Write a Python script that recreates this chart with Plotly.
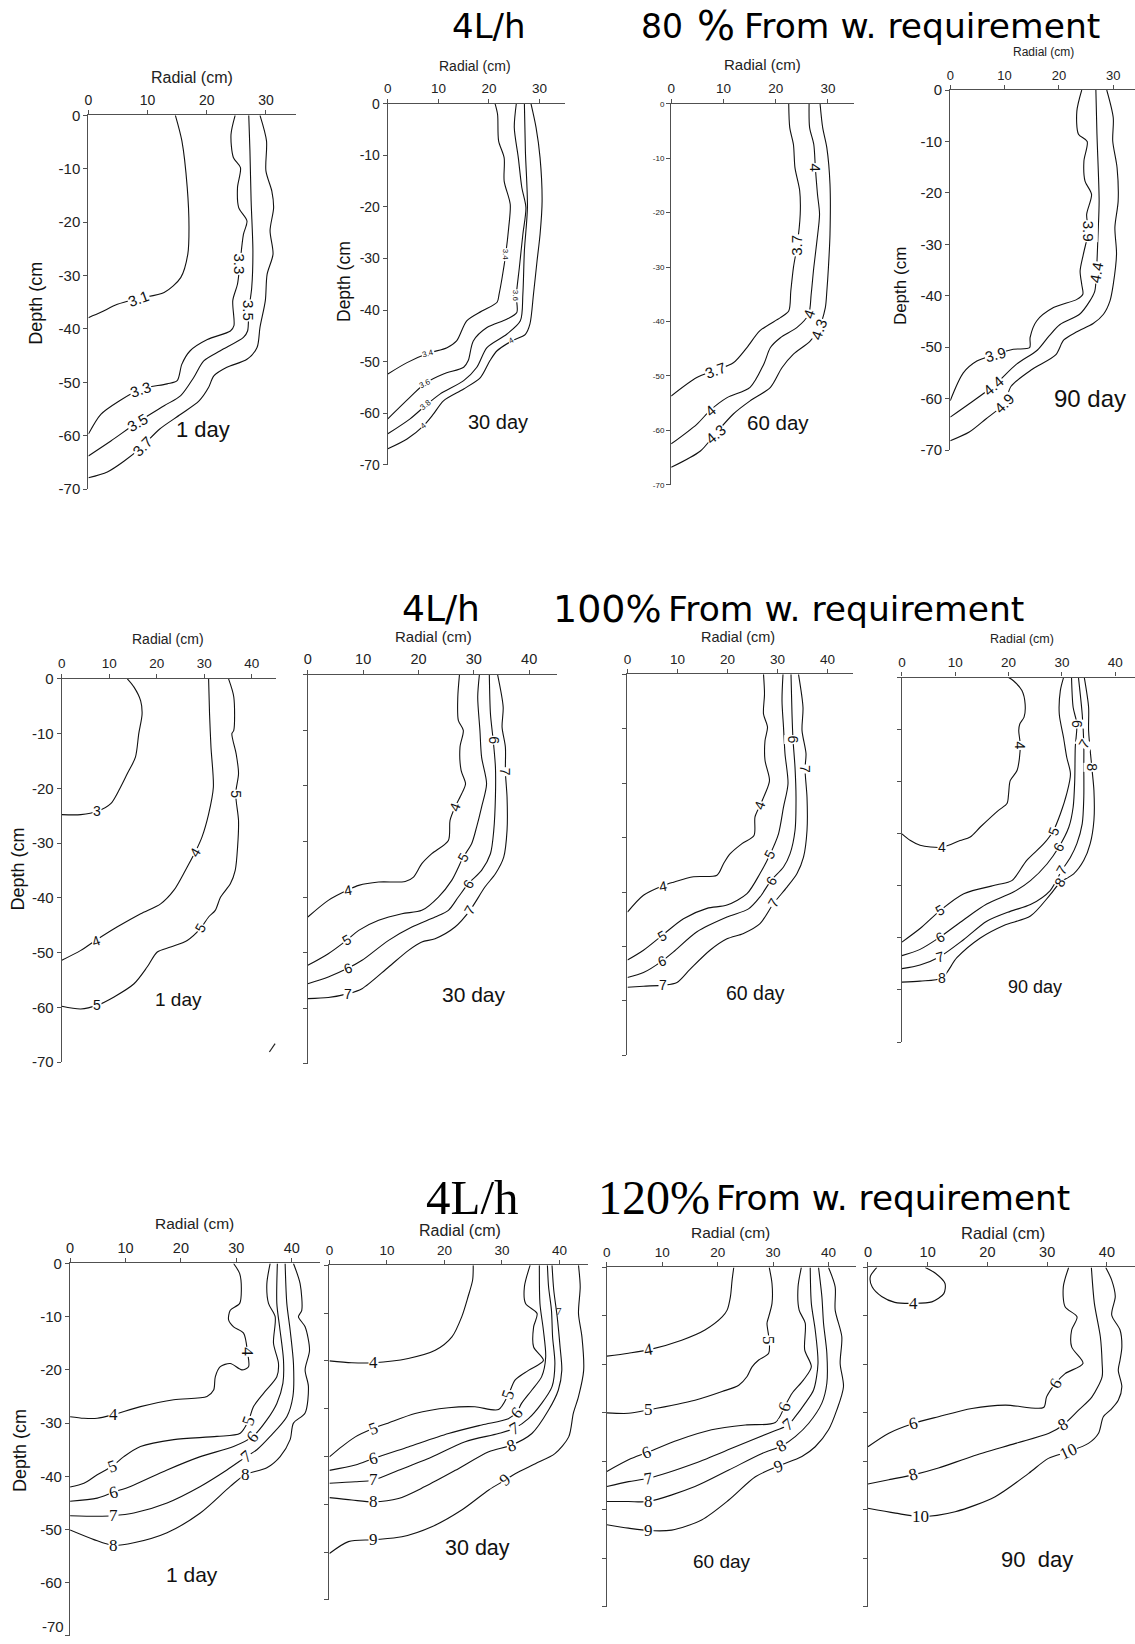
import plotly.graph_objects as go

W, H = 1135, 1644
PAGE_H = 1660              # page height incl. the 8 px body margins (screenshot is scaled to H)
Y_OFF = 8

# ======================= DATA =======================
X_TICKS_35 = [0, 10, 20, 30]
X_TICKS_45 = [0, 10, 20, 30, 40]
Y_TICKS = [0, -10, -20, -30, -40, -50, -60, -70]
Y_TICK_TEXT = ["0", "-10", "-20", "-30", "-40", "-50", "-60", "-70"]

DAY_LABELS = ["1 day", "30 day", "60 day", "90 day"]
DAY_LABELS_R3 = ["1 day", "30 day", "60 day", "90  day"]

# contour lines: (radial cm, depth cm) ---- row 1 : 4 L/h, 80 %
A1_31 = [(14.7,0),(15.8,-4.8),(16.7,-13.5),(17.0,-21),(16.8,-26),(15.6,-30.4),(12.8,-33.2),(8.5,-34.3),(4.9,-35.4),(2.1,-36.9),(0,-37.9)]
A1_33 = [(24.8,0),(24.1,-3.6),(24.5,-7.9),(25.7,-9.8),(25.2,-13.5),(25.4,-17.3),(26.8,-19.8),(26.2,-22.3),(25.6,-27.9),(25.2,-31.6),(24.4,-34.7),(24.6,-39.4),(24.0,-40.4),(20.1,-42),(17.2,-44.1),(15.8,-46.6),(15.0,-49.7),(13.3,-50.3),(8.8,-51.3),(5.2,-53.5),(2.1,-56),(0,-59.7)]
A1_35 = [(27.1,0),(27.3,-6.7),(27.5,-16),(27.8,-25.4),(27.6,-32.3),(27.1,-36.6),(26.9,-40.4),(26.2,-41.6),(22.3,-44.1),(19.5,-46),(17.8,-49.1),(15.6,-52.5),(12.8,-54.4),(8.3,-57.5),(3.8,-61),(0,-63.8)]
A1_37 = [(29.0,0),(30.1,-4.8),(30.0,-10.4),(31.0,-14.2),(31.3,-17.3),(30.7,-21.6),(31.2,-26),(30.2,-29.8),(29.9,-34.7),(29.0,-39.7),(28.5,-43.5),(26.8,-45.7),(23.4,-47.2),(21.2,-48.8),(20.3,-51),(18.7,-53.5),(15.6,-56),(12.0,-58.8),(9.1,-62),(6.0,-64.8),(3.2,-66.8),(0,-67.9)]

A2_34 = [(21.2,0),(21.7,-2.1),(21.9,-7.2),(23.0,-10.5),(23.0,-15),(24.2,-19.5),(23.9,-24),(23.3,-29.2),(22.6,-33.7),(22.0,-36.9),(21.6,-38.5),(18.6,-40.2),(15.6,-42.1),(13.6,-46),(11.7,-47.3),(8.0,-48.4),(3.8,-50.2),(0,-52.4)]
A2_36 = [(25.4,0),(25.0,-4.6),(25.8,-10.5),(26.5,-16.3),(27.3,-20.1),(26.7,-25.3),(26.0,-31.8),(25.4,-37.3),(25.5,-40.5),(23.5,-41.8),(19.6,-43.4),(16.9,-46),(15.9,-49.8),(15.0,-51.1),(11.0,-52.4),(7.4,-54.2),(4.4,-56.9),(0,-61.1)]
A2_38 = [(27.0,0),(27.2,-9.2),(27.6,-20.1),(27.0,-28.5),(26.7,-36.9),(26.2,-42.1),(23.5,-44.7),(19.6,-47.3),(17.6,-51.1),(15.0,-53.7),(10.3,-56.3),(7.6,-58.4),(4.4,-61.1),(0,-64.0)]
A2_40 = [(28.3,0),(29.3,-4.6),(30.1,-10.5),(30.5,-18.9),(30.1,-25.3),(29.5,-30.5),(28.8,-36.9),(28.1,-42.7),(27.2,-44.7),(24.5,-46),(21.6,-47.9),(20.2,-49.8),(18.3,-53.1),(15.0,-55.3),(11.0,-57.6),(9.0,-60.2),(7.1,-62.4),(3.8,-65),(0,-66.9)]

A3_37 = [(22.5,0),(22.7,-4.4),(23.4,-7.5),(23.7,-11.8),(24.6,-16),(24.7,-20.3),(24.1,-26.1),(23.4,-30.1),(22.9,-34.4),(22.5,-38.1),(20.9,-39.3),(17.0,-41.7),(14.5,-44.8),(11.9,-47.6),(8.4,-49),(4.9,-50.3),(0,-53.7)]
A3_40 = [(26.4,0),(26.5,-4.4),(27.3,-7.5),(27.6,-11.8),(28.0,-16.6),(28.4,-20.3),(27.9,-25.2),(27.3,-30.1),(26.8,-35),(26.3,-38.7),(24.1,-41.1),(20.9,-43),(19.0,-44.8),(17.7,-47.9),(15.1,-52.1),(10.7,-54),(7.5,-56.3),(4.9,-58.9),(0,-62.5)]
A3_43 = [(28.5,0),(29.0,-4.4),(29.8,-8.1),(30.4,-14.8),(30.4,-24),(30.1,-30.1),(29.8,-34.4),(29.5,-37.5),(28.2,-41.4),(26.6,-43.6),(23.4,-46),(21.2,-48.5),(19.0,-52.1),(15.1,-54.6),(11.9,-57),(8.4,-60.7),(5.6,-63.8),(0,-66.8)]

A4_39 = [(24.2,0),(23.3,-4.1),(23.6,-8.6),(25.2,-10.0),(24.6,-13.8),(24.8,-17.7),(26.0,-20.3),(25.1,-24.2),(25.4,-27.4),(24.5,-31.9),(23.9,-35.2),(24.2,-37.8),(24.4,-39.7),(23.3,-40.7),(19.0,-42.3),(15.9,-44.9),(14.7,-48.1),(14.6,-50.1),(11.6,-50.4),(8.3,-51.4),(4.9,-52.7),(2.4,-55.0),(0,-60.4)]
A4_44 = [(26.8,0),(27.0,-8.6),(27.4,-21.6),(27.2,-28),(26.9,-35.5),(26.6,-39.1),(25.7,-41),(23.8,-43.6),(20.2,-45.6),(18.2,-47.8),(16.0,-50.6),(12.2,-53.3),(8.0,-57.5),(3.5,-61.0),(0,-63.6)]
A4_49 = [(28.8,0),(30.0,-5.4),(29.9,-9.9),(30.7,-15.1),(30.9,-21.6),(30.3,-26.7),(30.6,-31.9),(30.0,-37.8),(29.4,-41),(28.2,-43.6),(26.3,-45.4),(23.3,-47.0),(20.9,-48.6),(19.4,-51.5),(15.1,-54.3),(11.2,-57.6),(9.9,-61.0),(6.5,-64.0),(3.5,-66.5),(0,-68.2)]

# ---- row 2 : 4 L/h, 100 %
B1_3 = [(13.8,0),(15.2,-1.5),(16.6,-4),(16.9,-6.4),(16.2,-10),(15.5,-14.3),(13.8,-17.3),(12.0,-20.4),(10.3,-22.8),(7.5,-24.2),(4.0,-24.8),(0,-24.8)]
B1_4 = [(30.9,0),(31.1,-6.4),(31.4,-12.5),(31.9,-19.8),(30.9,-24.7),(29.5,-28.9),(28.1,-31.6),(26.0,-35),(23.6,-38.6),(20.8,-41.1),(16.6,-42.9),(11.7,-45.3),(7.1,-47.8),(4.0,-49.6),(0,-51.4)]
B1_5 = [(35.1,0),(36.2,-3.3),(36.2,-9.4),(35.8,-10),(36.7,-13.7),(37.2,-17.3),(36.6,-21),(37.2,-25.9),(37.0,-30.7),(36.5,-35),(35.5,-37.4),(33.4,-39.9),(32.3,-42.3),(30.9,-43.5),(29.2,-45.6),(26.4,-47.8),(22.9,-49),(20.1,-49.9),(18.0,-52.6),(15.2,-55.7),(11.0,-58.1),(7.5,-59.6),(4.0,-60.3),(0,-59.8)]

B2_4 = [(27.4,0),(27.1,-4),(27.2,-8.2),(28.1,-10),(27.5,-13),(27.7,-17.2),(28.5,-19.6),(27.8,-21.4),(26.6,-23.8),(25.7,-26.2),(25.4,-29.8),(22.4,-32.2),(20.6,-34),(19.1,-36.4),(17.6,-37.2),(12.8,-37.3),(9.2,-37.9),(7.3,-38.7),(3.7,-40.6),(0,-43.6)]
B2_5 = [(31.0,0),(30.7,-4),(31.1,-10),(31.4,-14.8),(32.3,-19.6),(31.4,-23.8),(30.5,-27.4),(29.6,-30.4),(28.1,-32.8),(26.0,-37),(23.6,-40),(20.6,-42.4),(17.0,-43),(12.8,-44.2),(9.2,-46),(7.0,-47.8),(3.7,-50.2),(0,-52.3)]
B2_6 = [(32.8,0),(33.0,-7),(33.5,-11.8),(33.9,-16.6),(33.9,-22),(33.6,-28),(33.0,-32.2),(31.4,-35.2),(29.0,-37.6),(27.2,-40),(25.4,-42.4),(23.0,-43.6),(18.8,-45.4),(14.6,-47.8),(9.8,-51.4),(7.3,-52.8),(3.7,-54.4),(0,-55.6)]
B2_7 = [(34.3,0),(35.3,-5.8),(35.1,-9.4),(35.7,-13),(35.7,-17.5),(36.0,-22),(36.0,-28),(35.4,-32.8),(33.9,-35.8),(32.0,-38.2),(29.3,-42.4),(26.6,-45.4),(23.0,-47.5),(20.6,-48.1),(18.2,-49.6),(14.6,-52.6),(9.8,-56.5),(7.3,-57.4),(3.7,-58.1),(0,-58.3)]

B3_4 = [(27.2,0),(27.4,-3.6),(27.2,-7.3),(28.0,-9.7),(27.5,-12.2),(27.5,-15.8),(28.4,-19.5),(27.5,-22),(26.5,-24.1),(25.5,-26.2),(25.3,-29.6),(22.9,-31.1),(20.5,-33),(19.2,-34.8),(17.9,-36.9),(13.2,-37.2),(9.2,-38.2),(7.2,-38.8),(3.2,-40.6),(0,-43.7)]
B3_5 = [(31.1,0),(30.9,-4.8),(31.2,-9.7),(31.5,-14.6),(32.1,-20.1),(31.2,-24.4),(30.2,-29.3),(28.5,-33.1),(26.5,-36.6),(23.9,-40.3),(19.9,-42.4),(15.9,-43),(11.2,-44.9),(6.9,-48),(3.2,-50.7),(0,-52.5)]
B3_6 = [(32.7,0),(32.9,-7.3),(33.1,-12),(33.5,-17.1),(33.7,-22.6),(33.5,-28.7),(32.5,-33),(31.2,-35.4),(28.7,-37.9),(26.5,-40.9),(24.2,-43.1),(19.9,-44.6),(13.9,-47.3),(9.2,-51.0),(6.9,-52.7),(3.2,-54.8),(0,-55.7)]
B3_7 = [(34.2,0),(35.1,-6.1),(34.9,-10.3),(35.7,-14.6),(35.5,-17.4),(35.9,-22.6),(35.9,-28.7),(35.2,-33.6),(33.9,-36.6),(31.9,-39.1),(29.2,-42.1),(26.5,-45.8),(23.2,-47.6),(19.9,-48.6),(16.5,-50.7),(12.5,-54.2),(9.9,-56.6),(7.2,-57.1),(3.2,-57.3),(0,-57.5)]

B4_4 = [(20.0,0),(20.9,-0.6),(22.5,-2.5),(23.1,-5.1),(22.9,-7.6),(22.1,-8.9),(21.9,-10.2),(22.2,-13.1),(21.6,-17.8),(20.3,-19.8),(20.0,-22.3),(19.7,-24.2),(18.1,-25.5),(14.7,-28.7),(12.8,-30.6),(10.9,-31.3),(7.5,-32.6),(3.4,-32.2),(1.6,-31.3),(0,-30.0)]
B4_5 = [(30.3,0),(29.7,-2.5),(29.5,-7),(30.3,-11.5),(30.9,-15.3),(31.6,-18.5),(30.9,-22.3),(29.7,-26.2),(28.4,-29.4),(26.6,-31.9),(23.4,-35.1),(20.6,-39),(17.8,-39.8),(11.6,-41.5),(7.2,-44.7),(3.4,-48.2),(0,-50.8)]
B4_6 = [(31.8,0),(32.1,-5.7),(32.8,-8.9),(32.5,-13.4),(32.4,-19.8),(32.1,-24.9),(31.3,-28.7),(29.4,-32.6),(27.2,-35.8),(24.1,-39),(20.9,-41.2),(15.9,-43.5),(11.6,-46.5),(7.2,-49.8),(3.4,-52.2),(0,-53.4)]
B4_7 = [(33.1,0),(33.8,-7),(34.1,-12.7),(34.1,-17.2),(34.1,-23),(33.8,-28.1),(32.8,-31.9),(31.6,-34.5),(30.0,-37),(27.8,-40.9),(24.1,-43.6),(20.3,-44.9),(15.9,-46.8),(11.6,-50.3),(7.1,-53.6),(3.4,-55.2),(0,-55.9)]
B4_8 = [(34.2,0),(35.0,-5.7),(35.0,-10.2),(35.6,-17.2),(36.0,-21.7),(36.0,-27.4),(35.3,-31.9),(34.1,-35.1),(32.2,-37.7),(29.7,-39.3),(27.8,-41.7),(24.1,-45.8),(19.1,-47.6),(14.7,-50.0),(10.3,-53.8),(7.5,-57.7),(3.4,-58.3),(0,-58.5)]

# ---- row 3 : 4 L/h, 120 %
C1_4 = [(29.5,0),(30.6,-1.9),(30.9,-5),(30.6,-7.5),(28.9,-8.8),(28.6,-10.6),(29.5,-11.9),(31.3,-13.1),(32.0,-16.6),(32.2,-19.4),(31.0,-20),(28.9,-18.8),(27.1,-19.4),(26.2,-21.3),(25.9,-23.8),(24.7,-25),(18.7,-25.6),(12.7,-26.9),(7.8,-28.4),(4.9,-29.1),(2.5,-29.1),(0,-28.8)]
C1_5 = [(36.1,0),(35.5,-3.8),(35.8,-7.5),(37.0,-10),(36.7,-15),(37.6,-18.8),(37.3,-21.3),(34.9,-24.4),(33.1,-26.9),(32.2,-29.5),(30.7,-31.9),(26.5,-32.5),(18.7,-33.1),(12.7,-34.4),(9.7,-36.3),(7.6,-38.1),(4.9,-39.7),(2.5,-41.3),(0,-42)]
C1_6 = [(37.4,0),(37.3,-7.5),(37.8,-11.9),(38.5,-18.1),(38.4,-22.5),(37.3,-26.3),(35.5,-29.4),(33.0,-32.5),(29.5,-34.4),(23.5,-36.3),(17.5,-38.8),(10.9,-41.9),(7.8,-43),(4.9,-44.1),(0,-44.7)]
C1_7 = [(38.8,0),(39.1,-7.5),(39.7,-12.5),(40.3,-18.8),(40.2,-25),(39.1,-28.8),(36.1,-32.5),(33.7,-35),(31.8,-36.3),(28.3,-38.8),(23.5,-41.9),(17.5,-45),(11.5,-46.9),(7.8,-47.4),(4.9,-47.5),(0,-47.4)]
C1_8 = [(40.3,0),(41.5,-3.8),(41.8,-8.8),(41.2,-10),(42.4,-11.9),(43.2,-16.3),(42.4,-20),(43.0,-23.1),(42.4,-28.1),(40.3,-30),(39.7,-33.1),(37.9,-36.3),(35.5,-38.4),(31.6,-39.7),(28.9,-41.9),(23.5,-46.9),(17.5,-50.6),(11.5,-52.5),(7.8,-53),(4.3,-51.9),(0,-50.1)]

C2_4 = [(25.0,0),(24.9,-3.1),(24.1,-6.6),(23.0,-10.8),(21.3,-15),(18.4,-17.8),(13.7,-19.5),(7.7,-20.4),(3.9,-20.4),(0,-20)]
C2_5 = [(34.9,0),(33.9,-4.5),(34.1,-8),(36.1,-10.1),(35.5,-12.9),(35.5,-17.1),(37.2,-19.9),(34.6,-22),(32.3,-24),(31.1,-27.1),(29.4,-30.2),(25.3,-29.6),(20.7,-29.8),(14.9,-31),(10.0,-33.1),(7.7,-34.1),(4.5,-35.9),(2.1,-38),(0,-40.1)]
C2_6 = [(36.5,0),(36.6,-8),(37.2,-13.6),(37.6,-19.2),(36.9,-23.3),(35.2,-26.1),(33.4,-28.9),(32.6,-30.7),(31.1,-32.1),(26.5,-33.4),(20.7,-35.2),(13.7,-38),(7.7,-40.4),(4.5,-41.8),(0,-42.9)]
C2_7 = [(37.9,0),(38.1,-4.5),(38.6,-9.4),(38.8,-15),(39.2,-20.6),(38.7,-25.4),(36.9,-28.9),(34.6,-32.1),(32.2,-34.1),(29.4,-35.2),(23.6,-36.9),(17.8,-40.1),(12.0,-42.9),(7.7,-44.9),(4.5,-45.3),(0,-45.6)]
C2_8 = [(38.7,0),(39.0,-5.2),(39.6,-10.8),(40.1,-17.1),(40.4,-22),(39.8,-26.1),(38.1,-30.3),(35.2,-35.2),(31.7,-37.6),(27.7,-39),(21.9,-42.9),(16.6,-46.3),(12.0,-48.8),(7.7,-49.5),(3.9,-49.1),(0,-48.6)]
C2_9 = [(43.3,0),(43.6,-4.5),(43.3,-10.1),(43.9,-15),(44.2,-22),(43.3,-27.5),(42.4,-31),(41.6,-35.9),(39.2,-39.4),(35.8,-41.5),(32.3,-43.6),(30.6,-44.9),(27.7,-47),(23.0,-51.2),(17.8,-54.7),(12.6,-56.8),(7.7,-57.4),(3.3,-57.8),(0,-60.3)]

C3_4 = [(22.9,0),(22.6,-2.6),(22.3,-6),(21.7,-8.8),(20.8,-10.2),(17.7,-12.9),(13.5,-15),(7.5,-17),(3.9,-17.7),(0,-18.3)]
C3_5 = [(29.3,0),(29.8,-3.3),(29.8,-7.4),(29.2,-10.2),(28.9,-11.5),(29.3,-15),(29.2,-17.7),(27.4,-19.1),(26.2,-20.5),(25.3,-22.5),(23.8,-24.3),(20.8,-25.6),(15.9,-27.4),(7.5,-29.4),(3.9,-30.1),(0,-30)]
C3_6 = [(35.1,0),(34.5,-4),(34.7,-8.8),(35.8,-11.5),(35.7,-17),(36.9,-20.5),(35.5,-23.2),(33.4,-26),(32.1,-28.7),(30.4,-32),(25.0,-32.5),(18.9,-33.5),(12.9,-35.6),(7.2,-38.2),(3.9,-39.7),(0,-42.1)]
C3_7 = [(36.7,0),(36.9,-7.4),(37.6,-12.9),(38.1,-19.8),(37.3,-25.3),(35.8,-28),(34.0,-30.8),(32.7,-32.5),(29.2,-34.2),(23.2,-37),(15.9,-40.4),(7.5,-43.5),(3.9,-44.2),(0,-45.2)]
C3_8 = [(38.2,0),(38.8,-6),(39.1,-11.5),(39.7,-17.7),(39.7,-23.9),(38.8,-28),(36.4,-32.2),(34.0,-34.9),(31.6,-36.8),(28.0,-38.4),(22.0,-41.8),(15.9,-45.2),(7.5,-48.3),(3.9,-48.3),(0,-48.3)]
C3_9 = [(40.0,0),(41.2,-4),(41.2,-8.8),(42.4,-14.3),(42.1,-19.8),(42.7,-24.6),(41.5,-29.4),(40.0,-33.5),(37.6,-37),(35.2,-39),(30.9,-41),(26.8,-43.2),(22.0,-48),(17.1,-52.1),(11.7,-54.2),(7.5,-54.3),(3.9,-53.8),(0,-53.1)]

C4_4 = [(1.5,0),(0.4,-1.9),(0.7,-4),(2.3,-6),(4.5,-7.2),(7.6,-7.4),(10.7,-7.1),(12.7,-5.4),(12.9,-3.3),(11.3,-1.2),(9.6,0)]
C4_6 = [(33.6,0),(32.7,-4),(33.0,-8.1),(35.0,-10.2),(34.1,-12.9),(34.1,-16.4),(36.0,-19.8),(33.0,-21.9),(31.4,-23.9),(29.9,-26.7),(29.4,-28.9),(23.0,-28.4),(17.4,-29.1),(11.8,-30.8),(7.6,-32.2),(3.5,-34.2),(0,-37)]
C4_8 = [(37.4,0),(37.9,-7.4),(38.9,-14.3),(39.2,-19.8),(39.2,-22.5),(37.5,-26.7),(35.3,-29.4),(32.7,-32.5),(30.3,-34.2),(24.7,-36.3),(17.4,-39),(11.8,-41.4),(7.6,-42.8),(3.5,-43.8),(0,-44.7)]
C4_10 = [(39.8,0),(40.8,-2.6),(41.4,-6),(40.8,-9.8),(42.2,-12.9),(42.5,-16.4),(42.2,-19.1),(41.9,-21.2),(42.5,-24.6),(41.9,-27.4),(40.6,-29.4),(39.4,-30.8),(38.6,-34.2),(36.9,-36.3),(33.6,-38),(30.2,-39.4),(26.9,-42.5),(21.3,-47.3),(14.6,-50.4),(8.8,-51.4),(4.6,-50.7),(0,-49.7)]

PANEL_LINES = [
    [A1_31, A1_33, A1_35, A1_37], [A2_34, A2_36, A2_38, A2_40], [A3_37, A3_40, A3_43], [A4_39, A4_44, A4_49],
    [B1_3, B1_4, B1_5], [B2_4, B2_5, B2_6, B2_7], [B3_4, B3_5, B3_6, B3_7], [B4_4, B4_5, B4_6, B4_7, B4_8],
    [C1_4, C1_5, C1_6, C1_7, C1_8], [C2_4, C2_5, C2_6, C2_7, C2_8, C2_9], [C3_4, C3_5, C3_6, C3_7, C3_8, C3_9], [C4_4, C4_6, C4_8, C4_10],
]

# ======================= LAYOUT =======================
# pixel boxes in the target picture: left, top (depth 0), right (at xmax), bottom (depth -70), xmax
PANEL_BOX = [
    (87.7, 114.3, 295.4, 488.3, 35), (387.7, 102.7, 564.7, 464.0, 35),
    (671.0, 102.7, 853.8, 484.0, 35), (950.0, 89.0, 1135.0, 449.3, 34.0),
    (61.0, 678.3, 275.5, 1061.7, 45), (307.7, 674.3, 556.7, 1063.3, 45),
    (627.3, 673.7, 852.3, 1055.0, 45), (901.7, 677.0, 1135.0, 1041.7, 43.7),
    (69.3, 1263.3, 319.4, 1636.0, 45), (329.3, 1265.0, 588.1, 1600.0, 45),
    (606.7, 1267.3, 856.0, 1606.7, 45), (867.7, 1267.3, 1135.0, 1606.7, 44.7),
]
X_TICKFONT = [14, 13.5, 13.5, 13, 13.5, 14.5, 13.5, 13.5, 14.5, 13.5, 13.5, 14.5]
Y_TICKFONT = [15, 14, 8, 15, 15, None, None, None, 15, None, None, None]
RADIAL_POS = [(191.7, 76, 16), (475, 65, 14), (762, 63, 15), (1043, 51, 12), (168, 638, 14), (433, 636, 15),
              (738, 636, 14.5), (1022, 638, 12.5), (194, 1223, 15.5), (460, 1230, 16), (730, 1232, 15.5), (1003, 1233, 16.5)]
DEPTH_POS = [(35, 302, 18), (344, 281, 17.5), None, (901, 285, 17), (18, 868, 18), None, None, None,
             (19, 1450, 18), None, None, None]
DAY_POS = [(203, 429, 22), (498, 421, 20), (778, 422, 20.5), (1090, 398, 24),
           (178, 999, 19), (474, 994, 21), (755, 993, 19.5), (1035, 987, 18),
           (192, 1575, 21), (477, 1548, 21.5), (722, 1562, 19), (1037, 1560, 22)]

# contour-label spots: (text, radial, depth, angle)
LABEL_SPOTS = [
    [("3.1", 8.5, -34.3, -20), ("3.3", 25.6, -27.9, 90), ("3.3", 8.8, -51.3, -18), ("3.5", 27.1, -36.6, 90),
     ("3.5", 8.3, -57.5, -30), ("3.7", 9.1, -62, -45)],
    [("3.4", 23.3, -29.2, 90), ("3.4", 8.0, -48.4, -15), ("3.6", 25.4, -37.3, 90), ("3.6", 7.4, -54.2, -25),
     ("3.8", 7.6, -58.4, -40), ("4", 24.5, -46, -30), ("4", 7.1, -62.4, -40)],
    [("3.7", 24.1, -26.1, -90), ("3.7", 8.4, -49, -20), ("4", 27.6, -11.8, 90), ("4", 26.3, -38.7, -70),
     ("4", 7.5, -56.3, -40), ("4.3", 28.2, -41.4, -70), ("4.3", 8.4, -60.7, -40)],
    [("3.9", 25.4, -27.4, 90), ("3.9", 8.3, -51.4, -15), ("4.4", 26.9, -35.5, -80), ("4.4", 8.0, -57.5, -40),
     ("4.9", 9.9, -61.0, -45)],
    [("3", 7.5, -24.2, 0), ("4", 28.1, -31.6, -60), ("4", 7.1, -47.8, -20), ("5", 36.6, -21, 90),
     ("5", 29.2, -45.6, -60), ("5", 7.5, -59.6, 0)],
    [("4", 26.6, -23.8, -70), ("4", 7.3, -38.7, -10), ("5", 28.1, -32.8, -60), ("5", 7.0, -47.8, -30),
     ("6", 33.5, -11.8, 90), ("6", 29.0, -37.6, -60), ("6", 7.3, -52.8, -20), ("7", 35.7, -17.5, 90),
     ("7", 29.3, -42.4, -60), ("7", 7.3, -57.4, 0)],
    [("4", 26.5, -24.1, -70), ("4", 7.2, -38.8, -10), ("5", 28.5, -33.1, -60), ("5", 6.9, -48, -30),
     ("6", 33.1, -12, 90), ("6", 28.7, -37.9, -60), ("6", 6.9, -52.7, -20), ("7", 35.5, -17.4, 90),
     ("7", 29.2, -42.1, -60), ("7", 7.2, -57.1, 0)],
    [("4", 22.2, -13.1, 90), ("4", 7.5, -32.6, 0), ("5", 28.4, -29.4, -70), ("5", 7.2, -44.7, -30),
     ("6", 32.8, -8.9, 90), ("6", 29.4, -32.6, -60), ("6", 7.2, -49.8, -30), ("7", 34.1, -12.7, -60),
     ("7", 30.0, -37, -60), ("7", 7.1, -53.6, -15), ("8", 35.6, -17.2, 90), ("8", 29.7, -39.3, -60),
     ("8", 7.5, -57.7, 0)],
    [("4", 32.0, -16.6, 90), ("4", 7.8, -28.4, 0), ("5", 32.2, -29.5, -70), ("5", 7.6, -38.1, -20),
     ("6", 33.0, -32.5, -50), ("6", 7.8, -43, -15), ("7", 31.8, -36.3, -40), ("7", 7.8, -47.4, 0),
     ("8", 31.6, -39.7, 0), ("8", 7.8, -53, 0)],
    [("4", 7.7, -20.4, 0), ("5", 31.1, -27.1, -70), ("5", 7.7, -34.1, -20), ("6", 32.6, -30.7, -50),
     ("6", 7.7, -40.4, -15), ("7", 32.2, -34.1, -30), ("7", 7.7, -44.9, 0), ("8", 31.7, -37.6, -20),
     ("8", 7.7, -49.5, 0), ("9", 30.6, -44.9, -40), ("9", 7.7, -57.4, 0)],
    [("4", 7.5, -17, -10), ("5", 29.3, -15, 90), ("5", 7.5, -29.4, 0), ("6", 32.1, -28.7, -70),
     ("6", 7.2, -38.2, -20), ("7", 32.7, -32.5, -40), ("7", 7.5, -43.5, -10), ("8", 31.6, -36.8, -30),
     ("8", 7.5, -48.3, 0), ("9", 30.9, -41, -20), ("9", 7.5, -54.3, 0)],
    [("4", 7.6, -7.4, 0), ("6", 31.4, -23.9, -60), ("6", 7.6, -32.2, -15), ("8", 32.7, -32.5, -30),
     ("8", 7.6, -42.8, -15), ("10", 33.6, -38, -25), ("10", 8.8, -51.4, 0)],
]
LABEL_FONT = [15, 8, 15, 15, 14, 14, 14, 14, 17, 17, 17, 17]
SANS = "Liberation Sans, Arial, sans-serif"
SERIF = "Liberation Serif, Times New Roman, serif"
TITLE_SANS = "DejaVu Sans, Verdana, sans-serif"
AXIS_COLOR = "#505050"

fig = go.Figure()
annotations = []
layout = dict(width=W, height=H, margin=dict(l=0, r=0, t=0, b=0),
              paper_bgcolor="white", plot_bgcolor="white", showlegend=False)


def fy(y):
    """target picture row -> paper fraction (compensates page margin + scaling)"""
    yf = y * PAGE_H / H - Y_OFF
    return min(max(1 - yf / H, 0.0), 1.0)


def fx(x):
    """target picture column -> paper fraction (small left-side offset correction)"""
    xf = x - 3.0 * min(max((1060.0 - x) / 800.0, 0.0), 1.0)
    return min(max(xf / W, 0.0), 1.0)


def px(x, y):
    return fx(x), fy(y)


for i, (box, lines) in enumerate(zip(PANEL_BOX, PANEL_LINES)):
    n = "" if i == 0 else str(i + 1)
    l, t, r, b, xmax = box
    for pts in lines:
        fig.add_trace(go.Scatter(
            x=[p[0] for p in pts], y=[p[1] for p in pts], mode="lines",
            line=dict(color="#111111", width=1.1, shape="spline", smoothing=0.8),
            xaxis="x" + n, yaxis="y" + n, hoverinfo="skip", showlegend=False))
    xt = X_TICKS_35 if xmax < 40 else X_TICKS_45
    layout["xaxis" + n] = dict(
        domain=[fx(l), fx(r)], range=[0, xmax], side="top", anchor="y" + n,
        tickvals=xt, ticktext=[str(v) for v in xt], showline=True, linecolor=AXIS_COLOR, linewidth=1.3,
        ticks="outside", ticklen=4, tickcolor=AXIS_COLOR, tickwidth=1.2,
        tickfont=dict(family=SANS, size=X_TICKFONT[i], color="#222"),
        showgrid=False, zeroline=False, fixedrange=True)
    yfs = Y_TICKFONT[i]
    # the lowest panel's "-70" sits on the page edge: drawn as a separate text below
    ytext = Y_TICK_TEXT[:-1] + [""] if i == 8 else Y_TICK_TEXT
    layout["yaxis" + n] = dict(
        domain=[fy(b), fy(t)], range=[-70, 0], anchor="x" + n,
        tickvals=Y_TICKS, ticktext=ytext, showticklabels=yfs is not None,
        showline=True, linecolor=AXIS_COLOR, linewidth=1.3, ticks="outside", ticklen=4,
        tickcolor=AXIS_COLOR, tickwidth=1.2,
        tickfont=dict(family=SANS, size=yfs if yfs else 12, color="#222"),
        showgrid=False, zeroline=False, fixedrange=True)

    fam = SERIF if i >= 8 else SANS
    for txt, rr, dd, ang in LABEL_SPOTS[i]:
        annotations.append(dict(text=txt, x=rr, y=dd, xref="x" + n, yref="y" + n, showarrow=False,
                                textangle=ang, bgcolor="white", borderpad=0,
                                font=dict(family=fam, size=LABEL_FONT[i], color="#111")))
    rx, ry, rfs = RADIAL_POS[i]
    ax_, ay_ = px(rx, ry)
    annotations.append(dict(text="Radial (cm)", x=ax_, y=ay_, xref="paper", yref="paper", showarrow=False,
                            font=dict(family=SANS, size=rfs, color="#222"), xanchor="center", yanchor="middle"))
    if DEPTH_POS[i]:
        dx, dy, dfs = DEPTH_POS[i]
        ax_, ay_ = px(dx, dy)
        annotations.append(dict(text="Depth (cm", x=ax_, y=ay_, xref="paper", yref="paper", showarrow=False,
                                textangle=-90, font=dict(family=SANS, size=dfs, color="#111"),
                                xanchor="center", yanchor="middle"))
    tx, ty, tfs = DAY_POS[i]
    ax_, ay_ = px(tx, ty)
    day_txt = (DAY_LABELS_R3 if i >= 8 else DAY_LABELS)[i % 4]
    annotations.append(dict(text=day_txt, x=ax_, y=ay_, xref="paper", yref="paper", showarrow=False,
                            font=dict(family=SANS, size=tfs, color="#111"), xanchor="center", yanchor="middle"))

# "-70" of the lowest panel, kept inside the page
annotations.append(dict(text=Y_TICK_TEXT[-1], x=fx(64), y=0, xref="paper", yref="paper", showarrow=False,
                        xanchor="right", yanchor="bottom", borderpad=0,
                        font=dict(family=SANS, size=15, color="#222")))

# small stray "7" mark in the 120 % / 30 day panel
annotations.append(dict(text="7", x=40.0, y=-9.6, xref="x10", yref="y10", showarrow=False,
                        font=dict(family=SERIF, size=11, color="#111")))

# row titles
TITLES = [
    ("4L/h", 489, 25, TITLE_SANS, 34, "center"), ("80", 662, 25, TITLE_SANS, 33, "center"),
    ("%", 716, 25, TITLE_SANS, 40, "center"), ("From w. requirement", 742, 25, TITLE_SANS, 34.5, "left"),
    ("4L/h", 441, 608, TITLE_SANS, 36, "center"), ("100%", 607, 608, TITLE_SANS, 38, "center"),
    ("From w. requirement", 666, 608, TITLE_SANS, 34.5, "left"),
    ("4L/h", 472, 1197, SERIF, 49, "center"), ("120%", 654, 1197, SERIF, 48, "center"),
    ("From w. requirement", 714, 1198, TITLE_SANS, 34.3, "left"),
]
for txt, x, y, fam, fs, anc in TITLES:
    ax_, ay_ = px(x, y)
    annotations.append(dict(text=txt, x=ax_, y=ay_, xref="paper", yref="paper", showarrow=False,
                            xanchor=anc, yanchor="middle", font=dict(family=fam, size=fs, color="#000")))

layout["annotations"] = annotations
x1, y1 = px(269.3, 1051.7)
x2, y2 = px(275.0, 1043.3)
layout["shapes"] = [dict(type="line", xref="paper", yref="paper", x0=x1, y0=y1, x1=x2, y1=y2,
                         line=dict(color="#222", width=1.2))]
fig.update_layout(**layout)
fig.write_html("out.html")
